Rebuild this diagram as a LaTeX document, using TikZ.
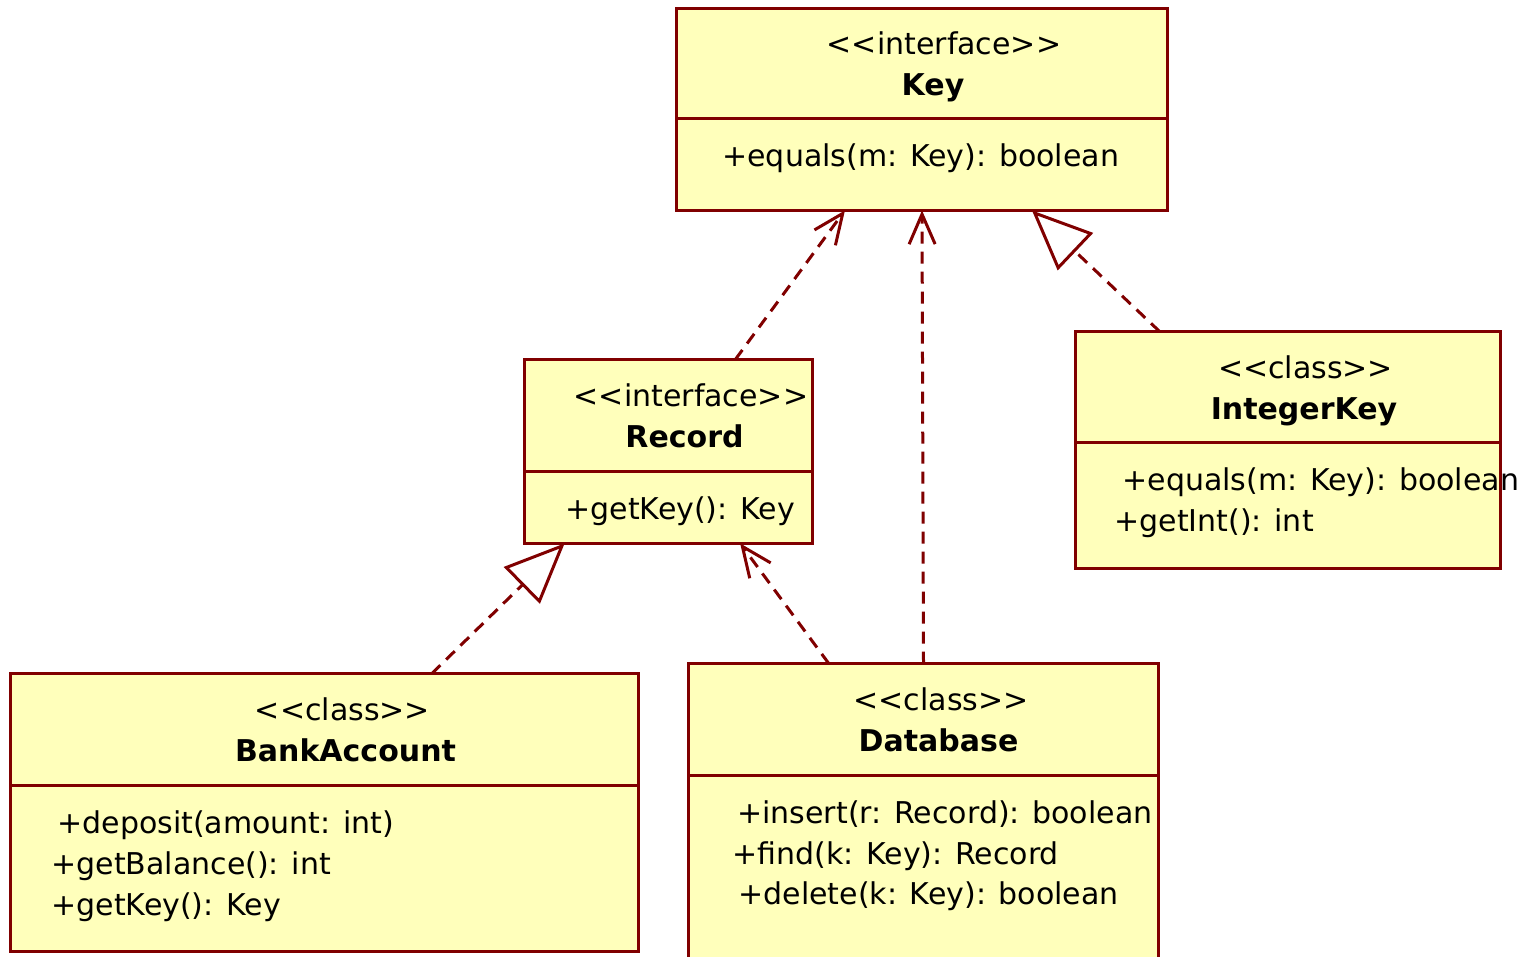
\documentclass[tikz,border=0pt]{standalone}
\usepackage{fontspec}
\setmainfont{DejaVu Sans}
\usetikzlibrary{arrows.meta,fit,calc}
\definecolor{umlline}{HTML}{800000}
\definecolor{umlfill}{HTML}{FFFFBB}
% guillemet-free stereotype brackets (kerns keep << and >> from ligating)
\newcommand\umlst[1]{<\kern0pt<#1>\kern0pt>}
\tikzset{
  classbox/.style={fill=umlfill, inner sep=0pt, rectangle},
  frame/.style={draw=umlline, line width=1.5pt},
  stereo/.style={anchor=base, inner sep=0pt, font=\fontsize{15}{18}\selectfont},
  cname/.style={anchor=base, inner sep=0pt, font=\fontsize{15}{18}\selectfont\bfseries},
  op/.style={anchor=base west, inner sep=0pt, font=\fontsize{15}{18}\selectfont},
  conn/.style={draw=umlline, line width=1.5pt, dash pattern=on 6pt off 4pt},
  dep/.style={conn, -{Straight Barb[length=15pt,width=13pt]}},
  real/.style={conn, -{Triangle[open,length=30pt,width=25.5pt,fill=white]}},
}
\begin{document}
\begin{tikzpicture}[x=0.5pt,y=-0.5pt]
\useasboundingbox (0,0) rectangle (1536,957);

% class boxes (fill only; frames are drawn over the text)
\node[classbox, fit={(677,9) (1167,210)}] (key) {};
\node[classbox, fit={(525,360) (812,543)}] (record) {};
\node[classbox, fit={(1076,332) (1500,568)}] (intkey) {};
\node[classbox, fit={(11,674) (638,951)}] (bank) {};
\node[classbox, fit={(689,664) (1158,975)}] (db) {};

% Key
\node[stereo] (keyS) at (944,55) {\umlst{interface}};
\node[cname] (keyN) at (933,96) {Key};
\node[op] (keyO1) at (722,167) {+equals(m: Key): boolean};

% Record
\node[stereo] (recS) at (691,406) {\umlst{interface}};
\node[cname] (recN) at (684.5,447) {Record};
\node[op] (recO1) at (565,519) {+getKey(): Key};

% IntegerKey
\node[stereo] (ikS) at (1305.5,378) {\umlst{class}};
\node[cname] (ikN) at (1304,419) {IntegerKey};
\node[op] (ikO1) at (1122,490) {+equals(m: Key): boolean};
\node[op] (ikO2) at (1114,531) {+getInt(): int};

% BankAccount
\node[stereo] (baS) at (342.5,720) {\umlst{class}};
\node[cname] (baN) at (345.5,761) {BankAccount};
\node[op] (baO1) at (57,833) {+deposit(amount: int)};
\node[op] (baO2) at (51,874) {+getBalance(): int};
\node[op] (baO3) at (51,915) {+getKey(): Key};

% Database
\node[stereo] (dbS) at (941,710) {\umlst{class}};
\node[cname] (dbN) at (938.5,751) {Database};
\node[op] (dbO1) at (737,823) {+insert(r: Record): boolean};
\node[op] (dbO2) at (732,864) {+find(k: Key): Record};
\node[op] (dbO3) at (738,904) {+delete(k: Key): boolean};

% frames and compartment dividers
\foreach \b/\d in {key/119, record/471, intkey/442, bank/785, db/775} {
  \draw[frame] (\b.north west) rectangle (\b.south east);
  \draw[frame] (\b.west |- 0,\d) -- (\b.east |- 0,\d);
}

% dependencies and realizations
\draw[dep] ($(record.north west)!0.732!(record.north east)$) -- ($(key.south west)!0.343!(key.south east)$);
\draw[dep] (db.north) -- (key.south);
\draw[real] ($(intkey.north west)!0.198!(intkey.north east)$) -- ($(key.south west)!0.724!(key.south east)$);
\draw[real] ($(bank.north west)!0.671!(bank.north east)$) -- ($(record.south west)!0.139!(record.south east)$);
\draw[dep] ($(db.north west)!0.2985!(db.north east)$) -- ($(record.south west)!0.749!(record.south east)$);
\end{tikzpicture}
\end{document}
